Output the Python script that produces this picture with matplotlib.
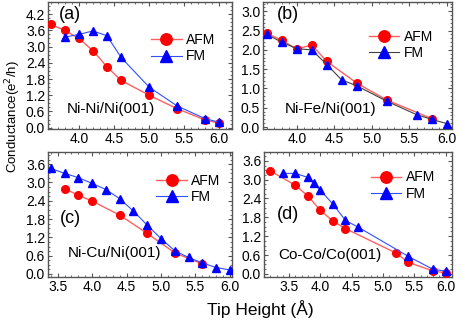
import matplotlib.pyplot as plt
import numpy as np

plt.rcParams['font.family'] = ['Liberation Sans', 'DejaVu Sans']
plt.rcParams['font.size'] = 9

# (a) Ni-Ni/Ni(001)
a_afm_x = [3.6, 3.8, 4.0, 4.2, 4.4, 4.6, 5.0, 5.4, 5.8, 6.0]
a_afm_y = [3.82, 3.6, 3.3, 2.85, 2.25, 1.75, 1.2, 0.7, 0.28, 0.17]
a_fm_x = [3.8, 4.0, 4.2, 4.4, 4.6, 5.0, 5.4, 5.8, 6.0]
a_fm_y = [3.35, 3.45, 3.58, 3.4, 2.6, 1.5, 0.8, 0.33, 0.2]

# (b) Ni-Fe/Ni(001)
b_afm_x = [3.6, 3.8, 4.0, 4.2, 4.4, 4.8, 5.2, 5.8]
b_afm_y = [2.43, 2.25, 2.02, 2.13, 1.70, 1.14, 0.70, 0.22]
b_fm_x = [3.6, 3.8, 4.0, 4.2, 4.4, 4.6, 4.8, 5.2, 5.6, 5.8, 6.0]
b_fm_y = [2.4, 2.2, 2.03, 2.0, 1.62, 1.22, 1.07, 0.67, 0.32, 0.2, 0.09]

# (c) Ni-Cu/Ni(001)
c_afm_x = [3.6, 3.8, 4.0, 4.4, 4.8, 5.2, 5.6]
c_afm_y = [2.8, 2.58, 2.39, 1.93, 1.33, 0.69, 0.33]
c_fm_x = [3.4, 3.6, 3.8, 4.0, 4.2, 4.4, 4.6, 4.8, 5.0, 5.2, 5.4, 5.6, 5.8, 6.0]
c_fm_y = [3.46, 3.3, 3.16, 2.97, 2.77, 2.47, 2.06, 1.6, 1.16, 0.76, 0.54, 0.36, 0.21, 0.13]

# (d) Co-Co/Co(001)
d_afm_x = [3.2, 3.6, 3.8, 4.0, 4.2, 4.4, 5.2, 5.4, 5.8, 6.0]
d_afm_y = [3.28, 2.82, 2.48, 2.02, 1.68, 1.44, 0.67, 0.37, 0.09, 0.03]
d_fm_x = [3.4, 3.6, 3.8, 3.9, 4.0, 4.2, 4.4, 4.6, 5.4, 5.8, 6.0]
d_fm_y = [3.2, 3.2, 3.07, 2.88, 2.66, 2.22, 1.70, 1.49, 0.56, 0.14, 0.09]

panels = [
    dict(afm=(a_afm_x, a_afm_y), fm=(a_fm_x, a_fm_y), tag="(a)", name="Ni-Ni/Ni(001)",
         xlim=(3.56, 6.18), ylim=(-0.05, 4.65), xt=np.arange(4.0, 6.01, 0.5), yt=np.arange(0, 4.21, 0.6),
         fmline="#3050ff", rect=(48, 2, 232, 129), tagpos=(0.12, 0.9), namepos=(0.34, 0.16),
         leg=(0.96, 0.83)),
    dict(afm=(b_afm_x, b_afm_y), fm=(b_fm_x, b_fm_y), tag="(b)", name="Ni-Fe/Ni(001)",
         xlim=(3.55, 6.07), ylim=(-0.05, 3.24), xt=np.arange(4.0, 6.01, 0.5), yt=np.arange(0, 3.01, 0.5),
         fmline="#404040", rect=(263, 2, 452, 129), tagpos=(0.13, 0.9), namepos=(0.36, 0.16),
         leg=(0.95, 0.86)),
    dict(afm=(c_afm_x, c_afm_y), fm=(c_fm_x, c_fm_y), tag="(c)", name="Ni-Cu/Ni(001)",
         xlim=(3.36, 6.03), ylim=(-0.1, 4.0), xt=np.arange(3.5, 6.01, 0.5), yt=np.arange(0, 3.61, 0.6),
         fmline="#3050ff", rect=(48, 152, 232, 277), tagpos=(0.12, 0.47), namepos=(0.36, 0.19),
         leg=(0.99, 0.9)),
    dict(afm=(d_afm_x, d_afm_y), fm=(d_fm_x, d_fm_y), tag="(d)", name="Co-Co/Co(001)",
         xlim=(3.1, 6.1), ylim=(-0.1, 3.88), xt=np.arange(3.5, 6.01, 0.5), yt=np.arange(0, 3.61, 0.6),
         fmline="#3050ff", rect=(264, 152, 452, 277), tagpos=(0.13, 0.5), namepos=(0.35, 0.18),
         leg=(0.96, 0.93)),
]

W, H = 463, 321
fig = plt.figure(figsize=(W / 100, H / 100), dpi=100)

for p in panels:
    x0, y0, x1, y1 = p["rect"]
    ax = fig.add_axes([x0 / W, 1 - y1 / H, (x1 - x0) / W, (y1 - y0) / H])
    ax.plot(*p["afm"], color="#ff6060", lw=1.0, marker="o", ms=5.5, mfc="red", mec="red",
            label="AFM", zorder=3)
    ax.plot(*p["fm"], color=p["fmline"], lw=0.8, marker="^", ms=6, mfc="blue", mec="blue",
            label="FM", zorder=4)
    ax.set_xlim(*p["xlim"])
    ax.set_ylim(*p["ylim"])
    ax.set_xticks(p["xt"])
    ax.set_yticks(p["yt"])
    ax.set_xticklabels([f"{v:.1f}" for v in p["xt"]])
    ax.set_yticklabels([f"{v:.1f}" for v in p["yt"]])
    ax.minorticks_on()
    ax.tick_params(which="both", direction="in", top=True, right=True, color="#555555")
    ax.tick_params(which="major", length=3, pad=2, labelsize=10)
    ax.tick_params(which="minor", length=1.5)
    for s in ax.spines.values():
        s.set_color("#555555")
        s.set_linewidth(1.0)
    ax.text(*p["tagpos"], p["tag"], transform=ax.transAxes, fontsize=13, ha="center", va="center")
    ax.text(*p["namepos"], p["name"], transform=ax.transAxes, fontsize=11, ha="center", va="center")
    ax.legend(loc="upper right", bbox_to_anchor=p["leg"], frameon=False, fontsize=10,
              markerscale=1.5, handlelength=2.2, handletextpad=0.3, labelspacing=0.15,
              borderpad=0.2)

fig.text(13 / W, 1 - 117 / H, "Conductance(e$^2$/h)", rotation=90, ha="center", va="center",
         fontsize=9.5)
fig.text(260 / W, 1 - 309 / H, "Tip Height (Å)", ha="center", va="center", fontsize=12.5)

fig.savefig("out.png", dpi=100)
